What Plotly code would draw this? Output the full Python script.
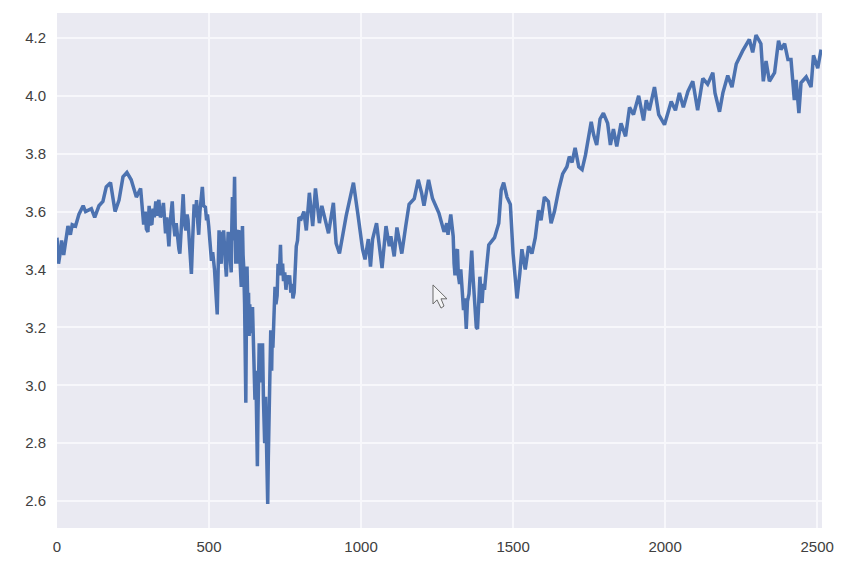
import plotly.graph_objects as go

x_start = [0,5,11,15,22,28,36,44,50,61,72,86,94,113,124,138,151,162,176,191,204,217,230,244,261,275]
y_start = [3.51,3.42,3.46,3.50,3.45,3.50,3.55,3.52,3.555,3.55,3.59,3.62,3.60,3.61,3.58,3.62,3.635,3.685,3.70,3.60,3.64,3.72,3.735,3.71,3.65,3.68]

x_noisy = [285,290,294,299,303,307,312,316,320,325,329,332,335,340,346,350,354,357,361,365,368,372,376,379,383,388,392,397,401,404,408,412,415,419,424,428,431,435,439,442,446,451,455,459,463,466,470,474,478,482,488,492,495,499,503,508,512,518,522,527]
y_noisy = [3.555,3.60,3.54,3.53,3.62,3.56,3.555,3.61,3.58,3.635,3.585,3.63,3.64,3.58,3.595,3.63,3.55,3.525,3.58,3.50,3.48,3.56,3.60,3.635,3.56,3.515,3.56,3.50,3.47,3.455,3.52,3.60,3.66,3.56,3.535,3.59,3.57,3.50,3.42,3.385,3.50,3.625,3.58,3.64,3.56,3.52,3.60,3.64,3.685,3.62,3.615,3.57,3.59,3.55,3.49,3.43,3.46,3.40,3.33,3.245]

x_crash = [530,533,536,540,543,546,548,551,554,557,560,563,566,568,571,573,575,577,580,582,584,586,588,590,592,595,598,601,604,606,608,610,612,614,617,619,621,623,625,628,630,632,634,636,638,641,643,645,648,651,654,656,659,661,663,665,668,670,672,674,676,679,681,683,686,689,691,693,695,697,699,701,703,706,708,710,713,715,717,720,724,727,731,735,738,742,745,749,753,757,761,765,769,773,776,780,784,787,791,796]
y_crash = [3.40,3.535,3.44,3.42,3.53,3.45,3.535,3.44,3.42,3.375,3.44,3.53,3.43,3.525,3.42,3.39,3.55,3.65,3.50,3.66,3.72,3.55,3.42,3.50,3.42,3.53,3.535,3.45,3.38,3.34,3.45,3.55,3.45,3.41,3.28,3.10,2.94,3.24,3.41,3.25,3.32,3.17,3.28,3.18,3.27,3.20,3.27,3.19,3.08,2.95,3.05,2.85,2.72,2.90,3.05,3.145,3.01,3.09,3.14,3.03,3.145,2.95,2.88,2.80,2.96,2.78,2.66,2.59,2.75,2.88,2.96,3.10,3.19,3.05,3.18,3.13,3.22,3.26,3.34,3.28,3.31,3.42,3.38,3.485,3.38,3.42,3.36,3.39,3.33,3.38,3.35,3.38,3.32,3.35,3.30,3.32,3.44,3.48,3.50,3.58]

x_mid = [803,812,820,830,841,850,863,871,893,909,918,929,951,975,989,1005,1013,1024,1031,1038,1051,1069,1082,1093,1098,1109,1118,1134,1147,1158,1175,1188,1199,1207,1222,1235,1256,1273,1282,1286,1295]
y_mid = [3.575,3.60,3.535,3.665,3.55,3.68,3.56,3.62,3.525,3.63,3.49,3.455,3.585,3.70,3.595,3.47,3.435,3.505,3.41,3.505,3.56,3.405,3.55,3.48,3.515,3.445,3.545,3.455,3.55,3.625,3.645,3.71,3.665,3.62,3.71,3.645,3.595,3.53,3.56,3.52,3.59]

x_dip = [1303,1306,1309,1313,1317,1320,1324,1328,1333,1337,1341,1346,1350,1355,1359,1364,1368,1371,1375,1379,1383,1387,1391,1395,1398,1402,1406,1413]
y_dip = [3.515,3.42,3.38,3.46,3.47,3.38,3.35,3.40,3.315,3.26,3.30,3.195,3.29,3.315,3.38,3.465,3.38,3.34,3.26,3.20,3.195,3.30,3.375,3.30,3.285,3.35,3.33,3.41]

x_rise = [1420,1439,1453,1461,1469,1480,1491,1500,1508,1513,1522,1529,1540,1551,1562,1573,1584,1592,1603,1616,1625,1636,1650,1663,1677,1685,1694,1704,1716,1727,1738,1757,1765,1775,1786,1797,1811,1820,1830,1841,1855,1870,1883,1896,1913,1929,1938,1948,1965,1979,1998]
y_rise = [3.485,3.51,3.56,3.675,3.70,3.65,3.625,3.455,3.365,3.30,3.385,3.47,3.40,3.48,3.455,3.51,3.605,3.57,3.65,3.635,3.56,3.60,3.675,3.73,3.755,3.79,3.77,3.82,3.755,3.745,3.795,3.91,3.865,3.83,3.92,3.94,3.905,3.83,3.885,3.825,3.905,3.86,3.96,3.935,4.00,3.915,3.985,3.95,4.03,3.935,3.90]

x_end = [2020,2034,2047,2060,2075,2091,2107,2124,2140,2157,2164,2179,2190,2206,2220,2234,2255,2277,2288,2299,2315,2323,2332,2343,2360,2373,2381,2393,2404,2414,2425,2431,2440,2447,2464,2480,2488,2502,2513]
y_end = [3.98,3.95,4.01,3.96,4.015,4.05,3.95,4.06,4.04,4.08,4.01,3.945,4.01,4.07,4.03,4.11,4.155,4.195,4.15,4.21,4.18,4.05,4.12,4.05,4.08,4.19,4.16,4.18,4.125,4.125,3.985,4.055,3.94,4.045,4.065,4.03,4.14,4.095,4.16]

x_tick_values = [0, 500, 1000, 1500, 2000, 2500]
y_tick_values = [2.6, 2.8, 3.0, 3.2, 3.4, 3.6, 3.8, 4.0, 4.2]

x_vals = x_start + x_noisy + x_crash + x_mid + x_dip + x_rise + x_end
y_vals = y_start + y_noisy + y_crash + y_mid + y_dip + y_rise + y_end

fig = go.Figure(go.Scatter(x=x_vals, y=y_vals, mode="lines",
                           line=dict(color="#4c72b0", width=3.5), hoverinfo="skip"))

axis_font = dict(family="Liberation Sans, Arial, sans-serif", size=15, color="#404040")
fig.update_layout(
    width=830, height=556, autosize=False,
    margin=dict(l=49, r=16, t=5, b=36),
    paper_bgcolor="white", plot_bgcolor="#eaeaf2",
    showlegend=False,
    xaxis=dict(range=[0, 2516], tickvals=x_tick_values, showgrid=True, gridcolor="#f7f7fb",
               gridwidth=1.6, zeroline=False, showline=False, ticks="", tickfont=axis_font,
               ticklabelstandoff=8),
    yaxis=dict(range=[2.507, 4.286], tickvals=y_tick_values, tickformat=".1f", showgrid=True,
               gridcolor="#f7f7fb", gridwidth=1.6, zeroline=False, showline=False, ticks="",
               tickfont=axis_font, ticklabelstandoff=10),
    shapes=[dict(type="path", xref="paper", yref="paper",
                 path="M 0.4915 0.472 L 0.4915 0.435 L 0.4967 0.443 L 0.5020 0.427 L 0.5059 0.431 "
                      "L 0.5020 0.445 L 0.5098 0.445 Z",
                 fillcolor="#f4f4f6", line=dict(color="#6a6a6a", width=1))],
)
fig.write_html("out.html", config={"displayModeBar": False})
